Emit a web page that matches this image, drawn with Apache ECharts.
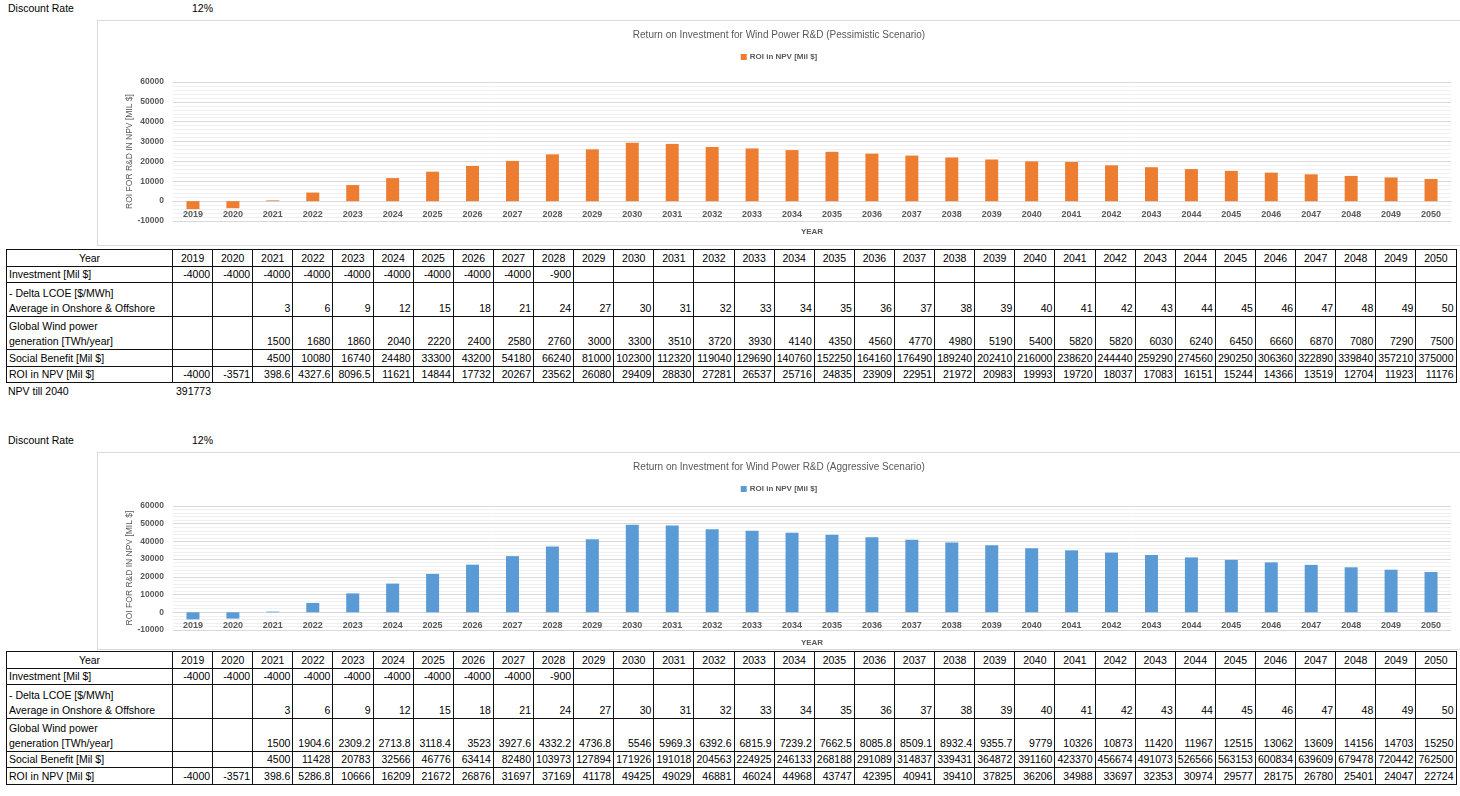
<!DOCTYPE html>
<html><head><meta charset="utf-8">
<script src="https://cdn.jsdelivr.net/npm/echarts@6/dist/echarts.min.js"></script>
<style>
html,body{margin:0;padding:0;width:1460px;height:796px;overflow:hidden;background:#fff;font-family:"Liberation Sans",Arial,sans-serif;}
.txt{position:absolute;font-size:10.5px;color:#000;line-height:12px;white-space:nowrap;}
.chart{position:absolute;left:97px;width:1362px;border:1px solid #d9d9d9;}
table{position:absolute;left:6px;border-collapse:collapse;table-layout:fixed;font-size:10.5px;color:#000;}
td{border:1px solid #111;padding:0 2px 0 2px;text-align:right;vertical-align:bottom;line-height:15px;white-space:nowrap;overflow:hidden;}
td.lab{text-align:left;}
tr.hdr td{text-align:center;}
</style></head>
<body>
<div class="txt" style="left:8px;top:2px;">Discount Rate</div>
<div class="txt" style="left:192px;top:2px;">12%</div>
<div id="c1" class="chart" style="top:20px;height:224px;"></div>
<table id="t1" style="top:249px;"></table>
<div class="txt" style="left:8px;top:385px;">NPV till 2040</div>
<div class="txt" style="left:176px;top:385px;">391773</div>

<div class="txt" style="left:8px;top:434px;">Discount Rate</div>
<div class="txt" style="left:192px;top:434px;">12%</div>
<div id="c2" class="chart" style="top:452px;height:196px;"></div>
<table id="t2" style="top:651px;"></table>

<script>
var years = ['2019','2020','2021','2022','2023','2024','2025','2026','2027','2028','2029','2030','2031','2032','2033','2034','2035','2036','2037','2038','2039','2040','2041','2042','2043','2044','2045','2046','2047','2048','2049','2050'];
var yTicks = [-10000, 60000, 10000]; // min, max, interval

var investment = [-4000,-4000,-4000,-4000,-4000,-4000,-4000,-4000,-4000,-900,null,null,null,null,null,null,null,null,null,null,null,null,null,null,null,null,null,null,null,null,null,null];
var deltaLCOE = [null,null,3,6,9,12,15,18,21,24,27,30,31,32,33,34,35,36,37,38,39,40,41,42,43,44,45,46,47,48,49,50];

var genPess = [null,null,1500,1680,1860,2040,2220,2400,2580,2760,3000,3300,3510,3720,3930,4140,4350,4560,4770,4980,5190,5400,5820,5820,6030,6240,6450,6660,6870,7080,7290,7500];
var benefitPess = [null,null,4500,10080,16740,24480,33300,43200,54180,66240,81000,102300,112320,119040,129690,140760,152250,164160,176490,189240,202410,216000,238620,244440,259290,274560,290250,306360,322890,339840,357210,375000];
var roiPess = [-4000,-3571,398.6,4327.6,8096.5,11621,14844,17732,20267,23562,26080,29409,28830,27281,26537,25716,24835,23909,22951,21972,20983,19993,19720,18037,17083,16151,15244,14366,13519,12704,11923,11176];

var genAggr = [null,null,1500,1904.6,2309.2,2713.8,3118.4,3523,3927.6,4332.2,4736.8,5546,5969.3,6392.6,6815.9,7239.2,7662.5,8085.8,8509.1,8932.4,9355.7,9779,10326,10873,11420,11967,12515,13062,13609,14156,14703,15250];
var benefitAggr = [null,null,4500,11428,20783,32566,46776,63414,82480,103973,127894,171926,191018,204563,224925,246133,268188,291089,314837,339431,364872,391160,423370,456674,491073,526566,563153,600834,639609,679478,720442,762500];
var roiAggr = [-4000,-3571,398.6,5286.8,10666,16209,21672,26876,31697,37169,41178,49425,49029,46881,46024,44968,43747,42395,40941,39410,37825,36206,34988,33697,32353,30974,29577,28175,26780,25401,24047,22724];

var seriesName = 'ROI in NPV [Mil $]';
var titlePess = 'Return on Investment for Wind Power R&D (Pessimistic Scenario)';
var titleAggr = 'Return on Investment for Wind Power R&D (Aggressive Scenario)';

function makeOption(title, color, data, gridTop, gridBottom, chartH) {
  var gray = '#595959';
  var gridH = chartH - gridTop - gridBottom;
  var zeroOffset = -gridH * (0 - yTicks[0]) / (yTicks[1] - yTicks[0]);
  return {
    animation: false,
    title: { text: title, left: 'center', top: 4,
      textStyle: { fontSize: 10, fontWeight: 'normal', color: gray, fontFamily: 'Liberation Sans' } },
    legend: { data: [seriesName], left: 'center', top: 27, icon: 'rect', itemWidth: 6, itemHeight: 6, itemGap: 4,
      textStyle: { fontSize: 8, fontWeight: 'bold', color: gray, fontFamily: 'Liberation Sans', padding: [0,0,0,-2] } },
    grid: { left: 75, right: 9, top: gridTop, bottom: gridBottom, containLabel: false, outerBoundsMode: 'none' },
    xAxis: { type: 'category', data: years, offset: zeroOffset,
      name: 'YEAR', nameLocation: 'middle', nameGap: 27, nameMoveOverlap: false,
      nameTextStyle: { fontSize: 8, fontWeight: 'bold', color: gray, fontFamily: 'Liberation Sans' },
      axisLine: { onZero: false, lineStyle: { color: '#d9d9d9', width: 1 } },
      axisTick: { show: false },
      axisLabel: { fontSize: 9, fontWeight: 'bold', color: gray, margin: 9, fontFamily: 'Liberation Sans', interval: 0 } },
    yAxis: { type: 'value', min: yTicks[0], max: yTicks[1], interval: yTicks[2],
      name: 'ROI FOR R&D IN NPV [MIL $]', nameLocation: 'middle', nameGap: 39, nameMoveOverlap: false,
      nameTextStyle: { fontSize: 8.5, color: gray, fontFamily: 'Liberation Sans' },
      axisLine: { show: false }, axisTick: { show: false },
      axisLabel: { fontSize: 8.5, fontWeight: 'bold', color: gray, margin: 9, fontFamily: 'Liberation Sans',
        formatter: function (v) { return String(v); } },
      splitLine: { lineStyle: { color: '#d9d9d9', width: 1 } },
      minorTick: { show: false, splitNumber: 5 },
      minorSplitLine: { show: true, lineStyle: { color: '#f0f0f0', width: 1 } } },
    series: [{ name: seriesName, type: 'bar', data: data, barWidth: 13,
      itemStyle: { color: color } }]
  };
}

var c1 = echarts.init(document.getElementById('c1'));
c1.setOption(makeOption(titlePess, '#ED7D31', roiPess, 61, 24, 224));
var c2 = echarts.init(document.getElementById('c2'));
c2.setOption(makeOption(titleAggr, '#5B9BD5', roiAggr, 53, 19, 196));

function fmt(v) { return v === null ? '' : String(v); }

function buildTable(id, gen, benefit, roi, heights) {
  var t = document.getElementById(id);
  var html = '<colgroup><col style="width:166px">';
  for (var i = 0; i < years.length; i++) html += '<col style="width:40.12px">';
  html += '</colgroup>';
  function row(cls, label, arr, h) {
    var s = '<tr class="' + cls + '" style="height:' + h + 'px"><td class="lab"' + (cls === 'hdr' ? ' style="text-align:center"' : '') + '>' + label + '</td>';
    for (var i = 0; i < arr.length; i++) s += '<td>' + fmt(arr[i]) + '</td>';
    return s + '</tr>';
  }
  html += row('hdr', 'Year', years, heights[0]);
  html += row('', 'Investment [Mil $]', investment, heights[1]);
  html += row('', '- Delta LCOE [$/MWh]<br>Average in Onshore &amp; Offshore', deltaLCOE, heights[2]);
  html += row('', 'Global Wind power<br>generation [TWh/year]', gen, heights[3]);
  html += row('', 'Social Benefit [Mil $]', benefit, heights[4]);
  html += row('', 'ROI in NPV [Mil $]', roi, heights[5]);
  t.innerHTML = html;
}
buildTable('t1', genPess, benefitPess, roiPess, [17,16,34,33,17,16]);
buildTable('t2', genAggr, benefitAggr, roiAggr, [17,16,34,33,16,17]);
</script>
</body></html>
